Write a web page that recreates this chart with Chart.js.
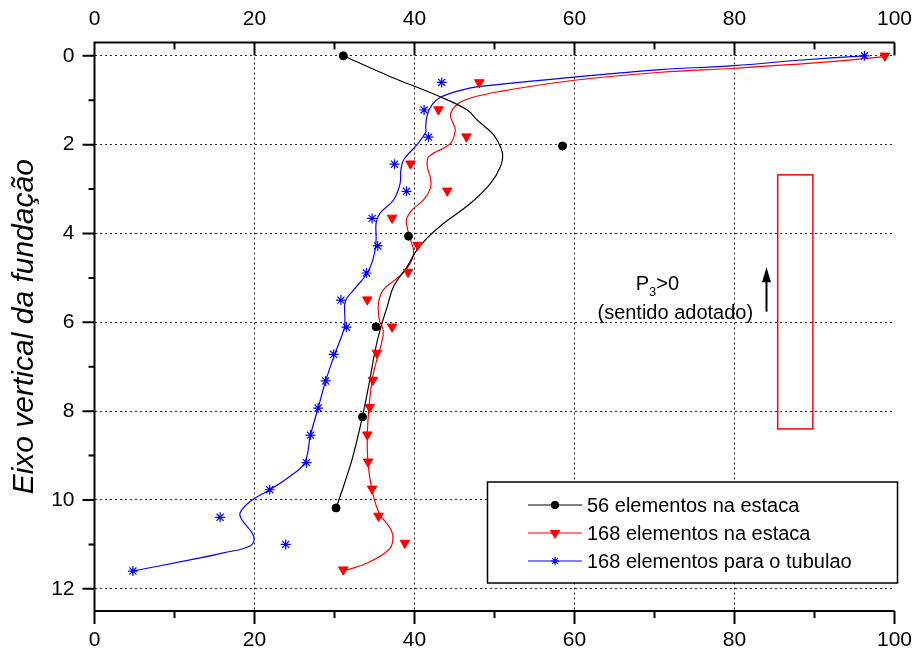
<!DOCTYPE html>
<html>
<head>
<meta charset="utf-8">
<script src="https://cdn.jsdelivr.net/npm/chart.js@4.4.1/dist/chart.umd.min.js"></script>
<style>
  html, body { margin: 0; padding: 0; background: #fff; }
  #wrap { width: 916px; height: 655px; }
</style>
</head>
<body>
<div id="wrap"><canvas id="chart" width="916" height="655"></canvas></div>
<script>
// Pontos (x = valor, y = profundidade)
const yBlack = [0, 2.03, 4.06, 6.1, 8.13, 10.18];
const xBlack = [31.1, 58.5, 39.25, 35.2, 33.5, 30.2];

const yRed = [0, 0.6, 1.21, 1.82, 2.43, 3.04, 3.65, 4.26, 4.87, 5.49, 6.1, 6.69, 7.3, 7.91, 8.53, 9.14, 9.75, 10.36, 10.97, 11.57];
const xRed = [98.8, 48.1, 43.0, 46.5, 39.5, 44.1, 37.2, 40.4, 39.2, 34.1, 37.2, 35.3, 34.8, 34.4, 34.1, 34.2, 34.7, 35.5, 38.8, 31.1];

const yBlue = [0, 0.6, 1.22, 1.83, 2.44, 3.05, 3.66, 4.28, 4.89, 5.5, 6.11, 6.72, 7.32, 7.93, 8.54, 9.16, 9.77, 10.39, 11.0, 11.6];
const xBlue = [96.25, 43.4, 41.2, 41.75, 37.5, 39.0, 34.7, 35.4, 34.0, 30.8, 31.5, 29.9, 28.9, 27.95, 27.0, 26.5, 21.9, 15.7, 23.9, 4.8];

// Curvas suavizadas
const yBlackCurve = [0, 0.47, 0.92, 1.22, 1.44, 1.74, 1.89, 2.19, 2.49, 2.87, 3.32, 3.77, 4.1, 4.37, 4.74, 5.19, 5.64, 6.17, 6.62, 7.4, 8.12, 9.02, 9.6, 10.18];
const xBlackCurve = [31.1, 37.0, 43.2, 46.6, 47.8, 49.7, 50.3, 51.0, 50.75, 49.5, 47.0, 43.65, 41.6, 40.3, 39.1, 37.4, 36.6, 35.7, 35.1, 34.3, 33.5, 32.3, 31.3, 30.2];

const yRedCurve = [0.02, 0.16, 0.28, 0.37, 0.55, 0.8, 0.95, 1.1, 1.33, 1.55, 1.67, 1.97, 2.27, 2.49, 2.75, 2.98, 3.24, 3.47, 3.69, 3.92, 4.14, 4.44, 4.78, 5.04, 5.27, 5.57, 5.94, 6.2, 6.6, 6.9, 7.3, 7.94, 8.56, 9.17, 9.78, 10.3, 10.68, 10.9, 11.12, 11.42, 11.6];
const xRedCurve = [98.8, 90, 80, 70.8, 60, 50.75, 47.0, 45.3, 44.5, 44.9, 45.1, 44.5, 41.8, 41.6, 42.0, 42.0, 41.15, 39.7, 39.0, 39.15, 39.5, 39.9, 39.1, 37.6, 36.1, 35.5, 35.6, 36.1, 35.7, 35.2, 34.7, 34.3, 34.1, 34.2, 34.7, 35.6, 37.1, 37.3, 36.8, 34.1, 31.1];

const yBlueCurve = [0, 0.1, 0.22, 0.31, 0.48, 0.69, 0.8, 0.94, 1.1, 1.33, 1.6, 1.72, 2.0, 2.34, 2.57, 2.87, 3.24, 3.54, 3.77, 4.14, 4.52, 4.89, 5.27, 5.53, 5.94, 6.15, 6.73, 7.32, 7.93, 8.54, 9.17, 9.47, 9.77, 10.03, 10.29, 10.44, 10.82, 11.03, 11.19, 11.35, 11.6];
const xBlueCurve = [96.25, 88, 80, 70.8, 60, 48.25, 45.3, 43.2, 42.2, 41.6, 41.4, 41.4, 40.3, 38.65, 38.3, 38.2, 37.4, 35.7, 35.2, 35.2, 34.9, 34.1, 32.4, 31.35, 31.3, 31.2, 30.0, 28.9, 27.95, 27.0, 26.25, 24.4, 21.9, 19.5, 18.2, 18.4, 19.9, 19.5, 16.1, 11.95, 4.8];

// Textos
const seriesNames = ['56 elementos na estaca', '168 elementos na estaca', '168 elementos para o tubulao'];
const seriesColors = ['#000000', '#ff0000', '#0000ff'];
const yTitle = 'Eixo vertical da fundação';

const FONT = '"Liberation Sans", Arial, sans-serif';

function pts(xs, ys) {
    return xs.map((x, i) => ({ x: x, y: ys[i] }));
}

function noPad(s) { // sem folga extra para rotulos nas pontas
    s.paddingLeft = 0; s.paddingRight = 0;
    s.paddingTop = 0; s.paddingBottom = 0;
}

// Eixos, marcas menores, anotacoes e legenda
const framePlugin = {
    id: 'frame',
    afterDraw(chart) {
        const ctx = chart.ctx;
        const xs = chart.scales.x;
        const ys = chart.scales.y;
        const a = chart.chartArea;
        ctx.save();
        ctx.strokeStyle = '#000';
        ctx.lineWidth = 2;
        ctx.beginPath();
        ctx.moveTo(a.left, a.top); ctx.lineTo(a.right, a.top);
        ctx.moveTo(a.left, a.bottom); ctx.lineTo(a.right, a.bottom);
        ctx.moveTo(a.left, a.top - 1); ctx.lineTo(a.left, a.bottom + 1);
        for (let v = 0; v <= 100; v += 10) {
            const px = xs.getPixelForValue(v);
            const len = v % 20 === 0 ? 13 : 7;
            ctx.moveTo(px, a.top); ctx.lineTo(px, a.top + len);
            ctx.moveTo(px, a.bottom); ctx.lineTo(px, a.bottom + len);
        }
        for (let v = 0; v <= 12; v += 1) {
            const py = ys.getPixelForValue(v);
            const len = v % 2 === 0 ? 12 : 6;
            ctx.moveTo(a.left, py); ctx.lineTo(a.left - len, py);
        }
        ctx.stroke();

        // retangulo vermelho
        const rx1 = xs.getPixelForValue(85.4), rx2 = xs.getPixelForValue(89.8);
        const ry1 = ys.getPixelForValue(2.68), ry2 = ys.getPixelForValue(8.4);
        ctx.strokeStyle = '#ff0000';
        ctx.lineWidth = 1.5;
        ctx.strokeRect(rx1, ry1, rx2 - rx1, ry2 - ry1);

        // seta
        const ax = xs.getPixelForValue(84.0);
        const aTip = ys.getPixelForValue(4.76), aTail = ys.getPixelForValue(5.76);
        ctx.strokeStyle = '#000';
        ctx.fillStyle = '#000';
        ctx.lineWidth = 2;
        ctx.beginPath();
        ctx.moveTo(ax, aTail); ctx.lineTo(ax, aTip + 10);
        ctx.stroke();
        ctx.beginPath();
        ctx.moveTo(ax, aTip); ctx.lineTo(ax - 4.5, aTip + 15); ctx.lineTo(ax + 4.5, aTip + 15);
        ctx.closePath();
        ctx.fill();

        // texto P3>0
        ctx.textBaseline = 'alphabetic';
        ctx.textAlign = 'left';
        ctx.font = '20px ' + FONT;
        let tx = xs.getPixelForValue(67.65);
        const tb = ys.getPixelForValue(5.28);
        ctx.fillText('P', tx, tb);
        tx += ctx.measureText('P').width;
        ctx.font = '13px ' + FONT;
        ctx.fillText('3', tx, tb + 6);
        tx += ctx.measureText('3').width;
        ctx.font = '20px ' + FONT;
        ctx.fillText('>0', tx, tb);
        ctx.textAlign = 'center';
        ctx.fillText('(sentido adotado)', xs.getPixelForValue(72.6), ys.getPixelForValue(5.93));

        // legenda
        const lx = 487.5, ly = 482, lw = 410, lh = 101;
        ctx.fillStyle = '#fff';
        ctx.fillRect(lx, ly, lw, lh);
        ctx.strokeStyle = '#000';
        ctx.lineWidth = 1.5;
        ctx.strokeRect(lx, ly, lw, lh);
        const styles = [
            { pointStyle: 'circle', radius: 3.5, rotation: 0, borderWidth: 1 },
            { pointStyle: 'triangle', radius: 5, rotation: 180, borderWidth: 1 },
            { pointStyle: 'star', radius: 4, rotation: 0, borderWidth: 1 }
        ];
        const rows = [505, 533, 561];
        ctx.font = '20px ' + FONT;
        ctx.textAlign = 'left';
        ctx.textBaseline = 'middle';
        seriesNames.forEach((name, i) => {
            const y = rows[i];
            ctx.strokeStyle = seriesColors[i];
            ctx.fillStyle = seriesColors[i];
            ctx.lineWidth = 1.2;
            ctx.beginPath();
            ctx.moveTo(528, y); ctx.lineTo(582, y);
            ctx.stroke();
            Chart.helpers.drawPoint(ctx, styles[i], 555, y);
            ctx.fillStyle = '#000';
            ctx.fillText(name, 587, y + 1);
        });
        ctx.restore();
    }
};

Chart.defaults.color = '#000';
Chart.defaults.font.family = FONT;

const ctx = document.getElementById('chart').getContext('2d');
const chart = new Chart(ctx, {
    type: 'scatter',
    data: {
        datasets: [
            {
                label: seriesNames[0],
                data: pts(xBlack, yBlack),
                pointStyle: 'circle', pointRadius: 4,
                backgroundColor: '#000', borderColor: '#000', borderWidth: 1,
                showLine: false, order: 1
            },
            {
                label: seriesNames[1],
                data: pts(xRed, yRed),
                pointStyle: 'triangle', pointRotation: 180, pointRadius: 5.5,
                backgroundColor: '#ff0000', borderColor: '#ff0000', borderWidth: 1,
                showLine: false, order: 1
            },
            {
                label: seriesNames[2],
                data: pts(xBlue, yBlue),
                pointStyle: 'star', pointRadius: 5,
                backgroundColor: '#0000ff', borderColor: '#0000ff', borderWidth: 1.2,
                showLine: false, order: 1
            },
            {
                data: pts(xBlackCurve, yBlackCurve),
                showLine: true, pointRadius: 0, borderColor: '#000', borderWidth: 1.2,
                tension: 0.4, order: 2
            },
            {
                data: pts(xRedCurve, yRedCurve),
                showLine: true, pointRadius: 0, borderColor: '#ff0000', borderWidth: 1.2,
                tension: 0.4, order: 2
            },
            {
                data: pts(xBlueCurve, yBlueCurve),
                showLine: true, pointRadius: 0, borderColor: '#0000ff', borderWidth: 1.2,
                tension: 0.4, order: 2
            }
        ]
    },
    options: {
        responsive: false,
        animation: false,
        devicePixelRatio: 1,
        layout: { padding: { left: 0, top: 0, right: 21.5, bottom: 0 } },
        plugins: {
            legend: { display: false },
            tooltip: { enabled: false }
        },
        scales: {
            x: {
                type: 'linear', position: 'bottom', min: 0, max: 100,
                ticks: { stepSize: 20, padding: 17, font: { size: 21 } },
                grid: {
                    drawTicks: false, lineWidth: 1,
                    color: (c) => (c.tick && c.tick.value > 0 && c.tick.value < 100) ? '#222' : 'rgba(0,0,0,0)'
                },
                border: { display: false, dash: [2, 3] },
                afterFit: (s) => { s.height = 44; noPad(s); }
            },
            x2: {
                type: 'linear', axis: 'x', position: 'top', min: 0, max: 100,
                ticks: { stepSize: 20, padding: 11, font: { size: 21 } },
                grid: { display: false, drawTicks: false },
                border: { display: false },
                afterFit: (s) => { s.height = 42.5; noPad(s); }
            },
            y: {
                type: 'linear', position: 'left', min: -0.3, max: 12.5, reverse: true,
                ticks: { stepSize: 2, padding: 20, includeBounds: false, font: { size: 21 } },
                grid: { drawTicks: false, lineWidth: 1, color: '#222' },
                border: { display: false, dash: [2, 3] },
                title: {
                    display: true, text: yTitle,
                    font: { size: 30, style: 'italic' },
                    padding: { top: 7, bottom: 0 }
                },
                afterFit: (s) => { s.width = 94.5; noPad(s); }
            }
        }
    },
    plugins: [framePlugin]
});
</script>
</body>
</html>
